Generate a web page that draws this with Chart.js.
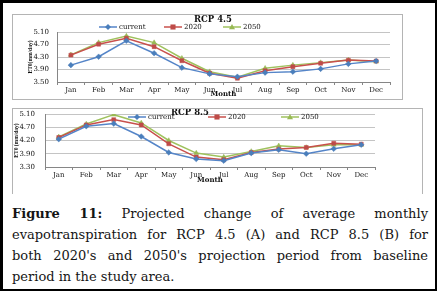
<!DOCTYPE html>
<html>
<head>
<meta charset="utf-8">
<script src="https://cdn.jsdelivr.net/npm/chart.js@4.4.0/dist/chart.umd.min.js"></script>
<style>
    html, body { margin: 0; padding: 0; background: #fff; }
    body { width: 437px; height: 297px; position: relative; overflow: hidden; }
    #frame { position: absolute; left: 0; top: 0; width: 432px; height: 286px;
        border-left: 3px solid #000; border-top: 3px solid #000; border-right: 2px solid #000; border-bottom: 2px solid #000; }
    .box { position: absolute; border: 1px solid #b4b4b4; }
    #box45 { left: 12px; top: 14px; width: 389px; height: 84px; }
    #box85 { left: 12px; top: 108px; width: 409px; height: 85px; border-bottom: none; }
    .box canvas { display: block; }
    #caption { position: absolute; left: 12px; top: 203px; width: 416px;
        font-family: "DejaVu Serif", serif; font-size: 13px; line-height: 21px; color: #151515; }
    #caption div { text-align: justify; text-align-last: justify; white-space: nowrap; }
    #caption div.last { text-align-last: left; }
</style>
</head>
<body>
<div id="frame"></div>
<div class="box" id="box45"><canvas id="rcp45" width="389" height="84"></canvas></div>
<div class="box" id="box85"><canvas id="rcp85" width="409" height="84"></canvas></div>
<div id="caption">
    <div><b>Figure 11:</b> Projected change of average monthly</div>
    <div>evapotranspiration for RCP 4.5 (A) and RCP 8.5 (B) for</div>
    <div>both 2020's and 2050's projection period from baseline</div>
    <div class="last">period in the study area.</div>
</div>
<script>
    // chart data
    var months = ['Jan', 'Feb', 'Mar', 'Apr', 'May', 'Jun', 'Jul', 'Aug', 'Sep', 'Oct', 'Nov', 'Dec'];
    var seriesNames = ['current', '2020', '2050'];

    var rcp45Current = [4.04, 4.31, 4.82, 4.42, 3.96, 3.76, 3.67, 3.80, 3.83, 3.92, 4.08, 4.17];
    var rcp45Y2020 = [4.36, 4.71, 4.90, 4.63, 4.18, 3.78, 3.62, 3.86, 3.99, 4.10, 4.20, 4.17];
    var rcp45Y2050 = [4.37, 4.76, 4.97, 4.76, 4.26, 3.83, 3.65, 3.94, 4.04, 4.12, 4.20, 4.15];

    var rcp85Current = [4.34, 4.73, 4.81, 4.42, 3.94, 3.74, 3.69, 3.92, 4.02, 3.90, 4.05, 4.17];
    var rcp85Y2020 = [4.39, 4.77, 4.93, 4.77, 4.20, 3.80, 3.72, 3.94, 4.04, 4.09, 4.22, 4.19];
    var rcp85Y2050 = [4.41, 4.80, 5.08, 4.83, 4.30, 3.92, 3.80, 3.97, 4.14, 4.09, 4.17, 4.17];

    var rcp45YTicks = ['3.50', '3.90', '4.30', '4.70', '5.10'];
    var rcp85YTicks = ['3.30', '3.90', '4.20', '4.70', '5.10'];

    var lineColors = ['#5585c8', '#c8504c', '#9fc25e'];
    var markerColors = ['#4a7ebb', '#be4b48', '#98b954'];
    var markerStyles = ['rectRot', 'rect', 'triangle'];

    Chart.defaults.font.family = '"DejaVu Serif", serif';
    Chart.defaults.font.size = 7;
    Chart.defaults.color = '#222';

    function drawMarker(ctx, style, x, y, r, color) {
        ctx.beginPath();
        if (style === 'rectRot') {
            ctx.moveTo(x, y - r); ctx.lineTo(x + r, y); ctx.lineTo(x, y + r); ctx.lineTo(x - r, y);
        } else if (style === 'rect') {
            ctx.rect(x - r * 0.85, y - r * 0.85, r * 1.7, r * 1.7);
        } else {
            ctx.moveTo(x, y - r); ctx.lineTo(x + r, y + r * 0.75); ctx.lineTo(x - r, y + r * 0.75);
        }
        ctx.closePath();
        ctx.fillStyle = color;
        ctx.fill();
    }

    // title + excel style legend drawn over the chart
    var headerPlugin = {
        id: 'header',
        afterDraw: function (chart, args, opts) {
            var ctx = chart.ctx;
            ctx.save();
            ctx.fillStyle = '#111';
            ctx.font = 'bold 8.5px "DejaVu Serif"';
            ctx.textAlign = 'center';
            ctx.textBaseline = 'middle';
            ctx.fillText(opts.text, opts.x, opts.y);

            ctx.font = '7px "DejaVu Serif"';
            ctx.textAlign = 'left';
            chart.data.datasets.forEach(function (dataset, i) {
                var mx = opts.items[i];
                var ly = opts.legendY;
                ctx.strokeStyle = dataset.borderColor;
                ctx.lineWidth = 1.5;
                ctx.beginPath();
                ctx.moveTo(mx - 9, ly);
                ctx.lineTo(mx + 9, ly);
                ctx.stroke();
                drawMarker(ctx, dataset.pointStyle, mx, ly, 3, dataset.pointBackgroundColor);
                ctx.fillStyle = '#111';
                ctx.fillText(dataset.label, mx + 11, ly);
            });
            ctx.restore();
        }
    };

    function makeDatasets(values) {
        return values.map(function (data, i) {
            return {
                label: seriesNames[i],
                data: data,
                borderColor: lineColors[i],
                backgroundColor: markerColors[i],
                pointBackgroundColor: markerColors[i],
                pointBorderColor: markerColors[i],
                pointStyle: markerStyles[i],
                pointRadius: 2.8,
                pointBorderWidth: 0.5,
                borderWidth: 1.5,
                tension: 0,
            };
        });
    }

    function makeChart(id, values, yTicks, yTitle, cfg) {
        var ctx = document.getElementById(id);
        return new Chart(ctx, {
            type: 'line',
            data: { labels: months, datasets: makeDatasets(values) },
            plugins: [headerPlugin],
            options: {
                responsive: false,
                animation: false,
                layout: { padding: cfg.padding },
                plugins: {
                    legend: { display: false },
                    tooltip: { enabled: false },
                    header: cfg.header,
                },
                scales: {
                    x: {
                        offset: true,
                        grid: { offset: true, drawOnChartArea: false, tickLength: 3, color: '#868686' },
                        border: { color: '#868686' },
                        ticks: { padding: 1, maxRotation: 0, autoSkip: false, color: '#111' },
                        title: { display: true, text: 'Month', color: '#111', padding: { top: 0, bottom: 1 },
                            font: { weight: 'bold', size: 7 } },
                        afterFit: function (scale) { scale.height = cfg.xHeight; },
                    },
                    y: {
                        min: 3.5,
                        max: 5.1,
                        // long transparent tick marks make the label gap without extra layout padding
                        grid: { color: '#c4c4c4', tickLength: cfg.tickGap, tickColor: 'rgba(0,0,0,0)' },
                        border: { color: '#868686' },
                        ticks: {
                            stepSize: 0.4,
                            padding: 0,
                            color: '#111',
                            callback: function (value, index) { return yTicks[index]; },
                        },
                        title: { display: true, text: yTitle, color: '#111', padding: 0,
                            font: { family: '"Liberation Serif"', weight: 'bold', size: 5.5 } },
                        afterFit: function (scale) { scale.width = cfg.yWidth; },
                    },
                },
            },
        });
    }

    makeChart('rcp45', [rcp45Current, rcp45Y2020, rcp45Y2050], rcp45YTicks, 'ET0(mm/day)', {
        padding: { left: 14, top: 17, right: 12, bottom: 0 },
        yWidth: 30,
        xHeight: 17,
        tickGap: 8,
        header: { text: 'RCP 4.5', x: 200, y: 5, legendY: 12, items: [95, 160, 219] },
    });

    makeChart('rcp85', [rcp85Current, rcp85Y2020, rcp85Y2050], rcp85YTicks, 'ET0 (mm/day)', {
        padding: { left: 0, top: 5, right: 47, bottom: 8 },
        yWidth: 32,
        xHeight: 18,
        tickGap: 10,
        header: { text: 'RCP 8.5', x: 177, y: 4, legendY: 8, items: [124, 204, 277] },
    });
</script>
</body>
</html>
